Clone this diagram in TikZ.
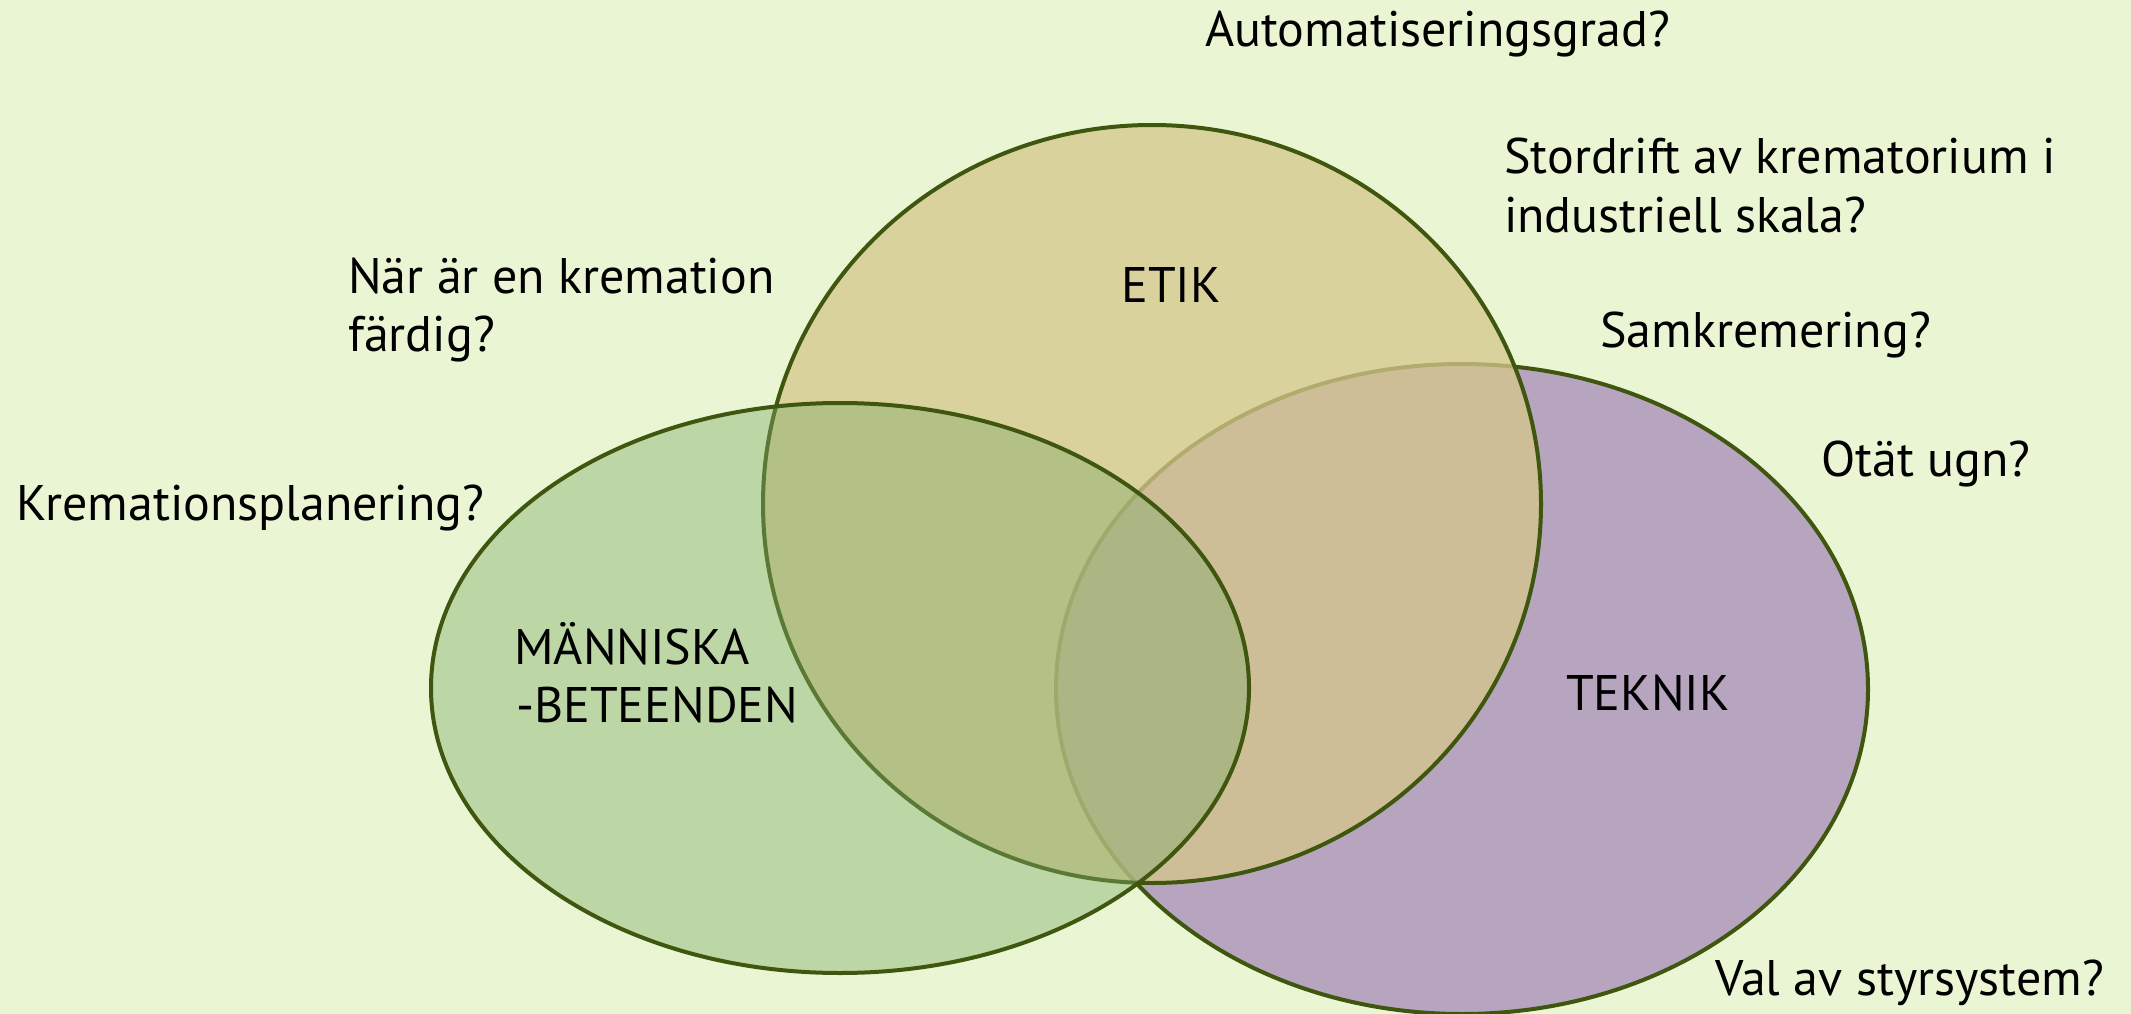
\documentclass[tikz,border=0pt]{standalone}
\usepackage{fontspec}
\setmainfont{PT Sans}
\definecolor{bg}{RGB}{234,246,211}
\definecolor{tekc}{RGB}{183,165,191}
\definecolor{etikc}{RGB}{214,199,141}
\definecolor{grc}{RGB}{127,170,106}
\definecolor{edge}{RGB}{62,86,14}
\tikzset{
  lbl/.style={anchor=base west, inner sep=0pt, font=\fontsize{50}{58}\selectfont, text=black},
  clbl/.style={anchor=base, inner sep=0pt, font=\fontsize{50}{58}\selectfont, text=black},
  rim/.style={draw=edge, line width=4pt}
}
\begin{document}
\begin{tikzpicture}[x=1pt,y=-1pt]
\fill[bg] (0,0) rectangle (2131,1014);
\useasboundingbox (0,0) rectangle (2131,1014);
% TEKNIK
\coordinate (tc) at (1462,689);
\fill[tekc] (tc) ellipse [x radius=406pt, y radius=325pt];
\draw[rim] (tc) ellipse [x radius=406pt, y radius=325pt];
% ETIK
\coordinate (ec) at (1152,504);
\fill[etikc, fill opacity=0.76] (ec) ellipse [x radius=389pt, y radius=379pt];
\draw[rim] (ec) ellipse [x radius=389pt, y radius=379pt];
% MANNISKA
\coordinate (gc) at (840,688);
\fill[grc, fill opacity=0.42] (gc) ellipse [x radius=409pt, y radius=285pt];
\draw[rim] (gc) ellipse [x radius=409pt, y radius=285pt];
% labels
\node[clbl] (etik) at (1171,302) {ETIK};
\node[lbl] (m1) at (514,664) {MÄNNISKA};
\node[lbl] (m2) at (516,722) {-BETEENDEN};
\node[clbl] (tek) at (1648,710) {TEKNIK};
\node[lbl] (q1) at (1205,47) {Automatiseringsgrad?};
\node[lbl] (q2a) at (1504,173) {Stordrift av krematorium i};
\node[lbl] (q2b) at (1504,232) {industriell skala?};
\node[lbl] (q3) at (1600,347) {Samkremering?};
\node[lbl] (q4) at (1821,476) {Otät ugn?};
\node[lbl] (q5a) at (348,293) {När är en kremation};
\node[lbl] (q5b) at (348,351) {färdig?};
\node[lbl] (q6) at (16,520) {Kremationsplanering?};
\node[lbl] (q7) at (1715,995) {Val av styrsystem?};
\end{tikzpicture}
\end{document}
